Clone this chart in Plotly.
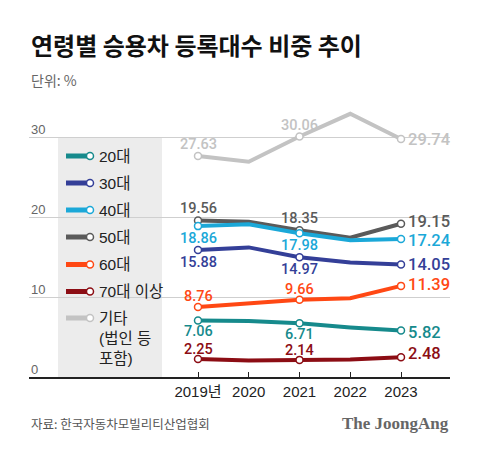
import plotly.graph_objects as go

# ---------------- data ----------------
years = [2019, 2020, 2021, 2022, 2023]
year_labels = ["2019년", "2020", "2021", "2022", "2023"]
series_names = ["20대", "30대", "40대", "50대", "60대", "70대 이상", "기타"]
s20 = [7.06, 7.0, 6.71, 6.2, 5.82]
s30 = [15.88, 16.2, 14.97, 14.3, 14.05]
s40 = [18.86, 19.1, 17.98, 17.1, 17.24]
s50 = [19.56, 19.4, 18.35, 17.4, 19.15]
s60 = [8.76, 9.2, 9.66, 9.85, 11.39]
s70 = [2.25, 2.05, 2.14, 2.2, 2.48]
s_etc = [27.63, 26.9, 30.06, 32.9, 29.74]
labeled_idx = [0, 2, 4]  # years that carry a marker and a value label
y_ticks = [0, 10, 20, 30]

values = {"20대": s20, "30대": s30, "40대": s40, "50대": s50,
          "60대": s60, "70대 이상": s70, "기타": s_etc}

# ---------------- styles ----------------
colors = {"20대": "#168a8c", "30대": "#343f98", "40대": "#1ba8d8", "50대": "#5a5a5a",
          "60대": "#ff4814", "70대 이상": "#8c0d14", "기타": "#c3c3c3"}
label_shift = {"20대": -11, "30대": -12.5, "40대": -12, "50대": 12,
               "60대": 10.5, "70대 이상": 9.5, "기타": 11.5}
right_shift = {"20대": -2, "30대": 0, "40대": -1.5, "50대": 2.5,
               "60대": 1, "70대 이상": 4, "기타": 0}
draw_order = ["기타", "70대 이상", "60대", "20대", "30대", "50대", "40대"]

W, H = 480, 455
OFF = 8  # page body margin of the browser
# plot area in page pixels
P_LEFT, P_RIGHT, P_TOP, P_BOTTOM = 29, 450, 100, 377
L, R = P_LEFT - OFF, W - (P_RIGHT - OFF)
T, B = P_TOP - OFF, H - (P_BOTTOM - OFF)
PW, PH = P_RIGHT - P_LEFT, P_BOTTOM - P_TOP
px_per_year = 50.75
x_range = [2019 - (198 - P_LEFT) / px_per_year, 2023 + (P_RIGHT - 401) / px_per_year]
y_range = [0, PH / 8.0]


def xp(px):
    return (px - P_LEFT) / PW


def yp(py):
    return (P_BOTTOM - py) / PH


SANS = "Liberation Sans, Noto Sans CJK KR, sans-serif"
LABEL_FONT = "Roboto, Liberation Sans, sans-serif"

fig = go.Figure()

for name in draw_order:
    vals = values[name]
    c = colors[name]
    fig.add_trace(go.Scatter(x=years, y=vals, mode="lines",
                             line=dict(color=c, width=4), hoverinfo="skip",
                             showlegend=False))
    fig.add_trace(go.Scatter(x=[years[i] for i in labeled_idx],
                             y=[vals[i] for i in labeled_idx], mode="markers",
                             marker=dict(size=7, color="white",
                                         line=dict(color=c, width=1.5)),
                             hoverinfo="skip", showlegend=False))

annotations = []
# value labels
for name in series_names:
    vals = values[name]
    c = colors[name]
    for i in labeled_idx[:-1]:
        annotations.append(dict(x=years[i], y=vals[i], xref="x", yref="y",
                                text=f"{vals[i]:.2f}", showarrow=False,
                                xanchor="center", yanchor="middle",
                                yshift=label_shift[name],
                                font=dict(family=LABEL_FONT, size=14.5, color=c, weight=500)))
    i = labeled_idx[-1]
    annotations.append(dict(x=years[i], y=vals[i], xref="x", yref="y",
                            text=f"{vals[i]:.2f}", showarrow=False,
                            xanchor="left", yanchor="middle", xshift=5,
                            yshift=right_shift[name],
                            font=dict(family=LABEL_FONT, size=16.5, color=c, weight=500)))

# y tick labels (above gridlines, at the left)
for t in y_ticks:
    annotations.append(dict(x=0, y=t, xref="paper", yref="y", text=str(t),
                            showarrow=False, xanchor="left", yanchor="middle",
                            yshift=8, font=dict(family=SANS, size=13, color="#666666")))

# title, unit, source, brand
annotations += [
    dict(x=xp(29), y=yp(44), xref="paper", yref="paper", text="<b>연령별 승용차 등록대수 비중 추이</b>",
         showarrow=False, xanchor="left", yanchor="middle",
         font=dict(family="Noto Sans CJK KR", size=24, color="#111111")),
    dict(x=xp(29), y=yp(80), xref="paper", yref="paper", text="단위: %",
         showarrow=False, xanchor="left", yanchor="middle",
         font=dict(family="Noto Sans CJK KR", size=14, color="#666666")),
    dict(x=xp(29), y=yp(423), xref="paper", yref="paper", text="자료: 한국자동차모빌리티산업협회",
         showarrow=False, xanchor="left", yanchor="middle",
         font=dict(family="Noto Sans CJK KR", size=12.5, color="#555555")),
    dict(x=xp(451), y=yp(423), xref="paper", yref="paper", text="<b>The JoongAng</b>",
         showarrow=False, xanchor="right", yanchor="middle",
         font=dict(family="Liberation Serif, DejaVu Serif, serif", size=17, color="#666666")),
]

shapes = [dict(type="rect", xref="paper", yref="y", x0=xp(58), x1=xp(162), y0=0, y1=30,
               fillcolor="#ececec", line=dict(width=0), layer="between")]

# custom legend
legend_y = {"20대": 156, "30대": 183, "40대": 210, "50대": 237,
            "60대": 264.5, "70대 이상": 291.5, "기타": 318}
legend_text = {n: n for n in series_names}
legend_text["기타"] = "기타<br>(법인 등<br>포함)"
for name in series_names:
    py = legend_y[name]
    c = colors[name]
    shapes.append(dict(type="line", xref="paper", yref="paper", x0=xp(66), x1=xp(88),
                       y0=yp(py), y1=yp(py), line=dict(color=c, width=5), layer="above"))
    shapes.append(dict(type="circle", xref="paper", yref="paper", x0=xp(86.5), x1=xp(93.5),
                       y0=yp(py + 3.5), y1=yp(py - 3.5), fillcolor="white",
                       line=dict(color=c, width=1.5), layer="above"))
    annotations.append(dict(x=xp(97), y=yp(py), xref="paper", yref="paper",
                            text=legend_text[name], showarrow=False, xanchor="left",
                            yanchor="top" if name == "기타" else "middle",
                            yshift=10 if name == "기타" else 0,
                            align="left",
                            font=dict(family=SANS, size=15.5, color="#222222")))

fig.update_layout(
    width=W, height=H, margin=dict(l=L, r=R, t=T, b=B),
    paper_bgcolor="white", plot_bgcolor="white",
    showlegend=False, annotations=annotations, shapes=shapes,
    xaxis=dict(range=x_range, tickvals=years, ticktext=year_labels,
               ticks="inside", ticklen=5, tickwidth=1, tickcolor="#222222",
               showline=True, linecolor="#222222", linewidth=1.5, showgrid=False,
               zeroline=False, fixedrange=True,
               tickfont=dict(family=SANS, size=15, color="#222222")),
    yaxis=dict(range=y_range, tickvals=y_ticks[1:], showticklabels=False,
               showgrid=True, gridcolor="#cfcfcf", gridwidth=1, zeroline=False,
               showline=False, fixedrange=True),
)

fig.write_html("out.html")
